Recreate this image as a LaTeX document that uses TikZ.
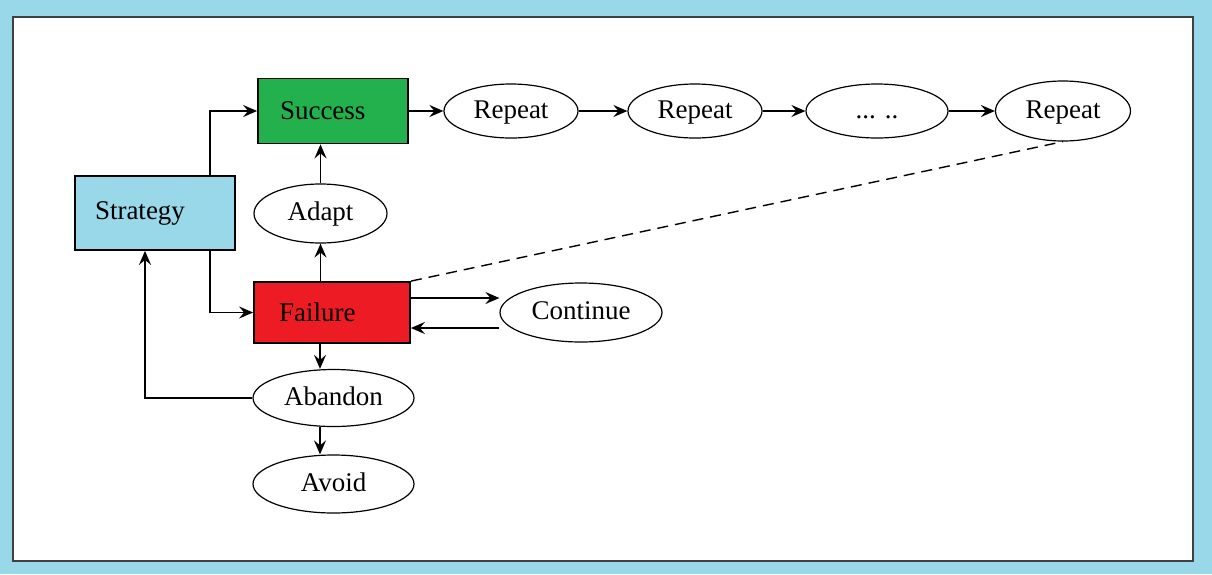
\documentclass[tikz,border=0pt]{standalone}
\usepackage{fontspec}
\setmainfont{Liberation Serif}
\usetikzlibrary{arrows.meta,shapes.geometric}
\definecolor{bgblue}{RGB}{152,216,232}
\definecolor{sgreen}{RGB}{34,177,76}
\definecolor{fred}{RGB}{237,28,36}
\begin{document}
\begin{tikzpicture}[x=1pt,y=-1pt,
  font=\fontsize{27}{32}\selectfont,
  box/.style={draw, rectangle, line width=1.8pt, align=left, inner ysep=0pt},
  ell/.style={draw, ellipse, line width=1.2pt, fill=white, inner sep=0pt, text height=18pt, text depth=4pt},
  arr/.style={line width=1.8pt, -{Stealth[length=14pt,width=12pt,inset=5pt]}},
  dsh/.style={line width=1.4pt, dash pattern=on 11pt off 7pt}]
\useasboundingbox (0,0) rectangle (1212,574);
\fill[bgblue] (0,0) rectangle (1212,574);
\draw[draw=black!75, fill=white, line width=2pt] (13,17) rectangle (1193,561);

\node[box, fill=bgblue, text width=120pt, inner xsep=20pt, minimum height=74pt] (strat) at (155,213) {Strategy};
\node[box, fill=sgreen, text width=106pt, inner xsep=22pt, minimum height=65pt] (succ) at (333,111) {Success};
\node[box, fill=fred, text width=106pt, inner xsep=25pt, minimum height=61pt] (fail) at (332,312.5) {Failure};

\node[ell, minimum width=133pt, minimum height=59pt] (adapt) at (320.5,213.5) {Adapt};
\node[ell, minimum width=161pt, minimum height=57pt] (aband) at (333.5,398) {Abandon};
\node[ell, minimum width=161pt, minimum height=58pt] (avoid) at (333.5,484) {Avoid};
\node[ell, minimum width=162pt, minimum height=59pt] (cont) at (581,312.5) {Continue};
\node[ell, minimum width=134pt, minimum height=54pt] (rep1) at (511,111) {Repeat};
\node[ell, minimum width=134pt, minimum height=54pt] (rep2) at (695,111) {Repeat};
\node[ell, minimum width=142pt, minimum height=54pt] (dots) at (877,111) {... ..};
\node[ell, minimum width=135pt, minimum height=60pt] (rep3) at (1063,111) {Repeat};

\coordinate (sx) at (210,0);
\coordinate (ax) at (320,0);
\coordinate (bx) at (145,0);
\coordinate (cy1) at (0,298);
\coordinate (cy2) at (0,328);

\draw[arr] (sx |- strat.north) |- (succ.west);
\draw[arr] (sx |- strat.south) |- (fail.west);
\draw[arr] (adapt |- fail.north) -- (adapt.south);
\draw[arr] (adapt.north) -- (adapt |- succ.south);
\draw[arr] (ax |- fail.south) -- (ax |- aband.north);
\draw[arr] (ax |- aband.south) -- (ax |- avoid.north);
\draw[arr] (aband.west) -| (bx |- strat.south);
\draw[arr] (fail.east |- cy1) -- (cont.west |- cy1);
\draw[arr] (cont.west |- cy2) -- (fail.east |- cy2);
\draw[arr] (succ.east) -- (rep1.west);
\draw[arr] (rep1.east) -- (rep2.west);
\draw[arr] (rep2.east) -- (dots.west);
\draw[arr] (dots.east) -- (rep3.west);
\draw[dsh] (fail.north east) -- (rep3.south);
\end{tikzpicture}
\end{document}
